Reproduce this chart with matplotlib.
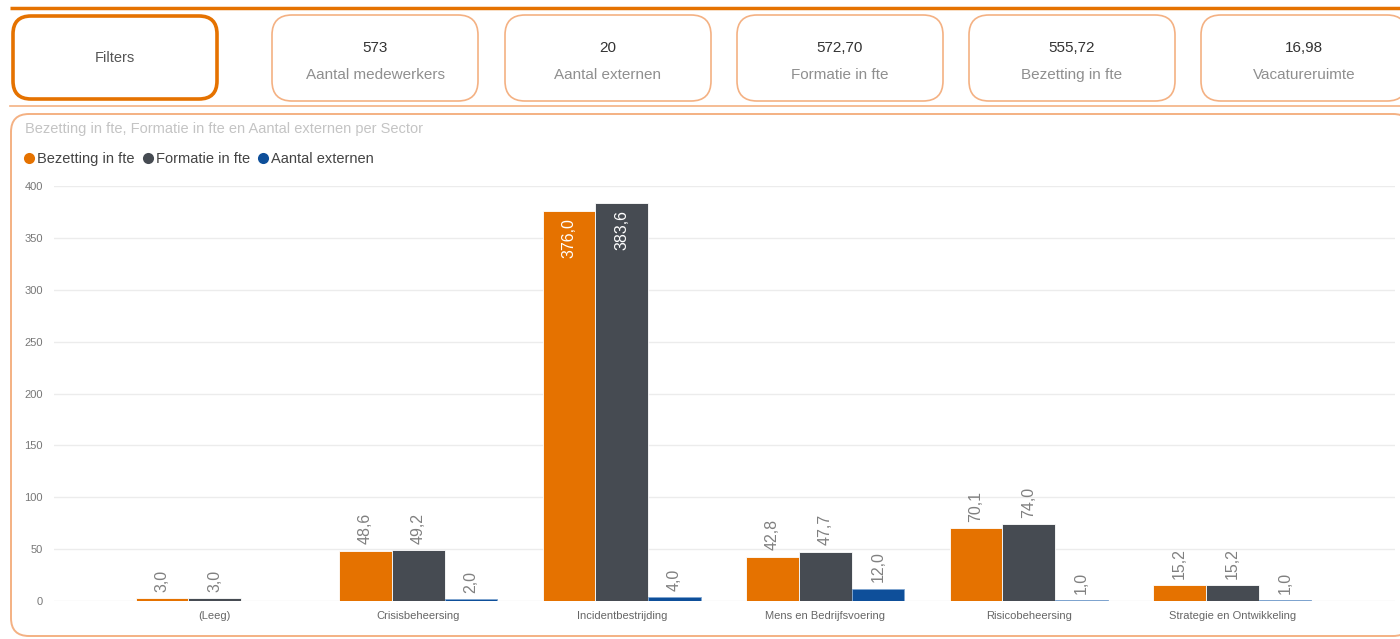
import numpy as np
import matplotlib
matplotlib.use("Agg")
import matplotlib.pyplot as plt
from matplotlib.patches import FancyBboxPatch
from matplotlib.lines import Line2D

plt.rcParams['font.family'] = ['Liberation Sans', 'DejaVu Sans']

categories = ["(Leeg)", "Crisisbeheersing", "Incidentbestrijding",
              "Mens en Bedrijfsvoering", "Risicobeheersing", "Strategie en Ontwikkeling"]
bezetting = [3.0, 48.6, 376.0, 42.8, 70.1, 15.2]
formatie = [3.0, 49.2, 383.6, 47.7, 74.0, 15.2]
externen = [np.nan, 2.0, 4.0, 12.0, 1.0, 1.0]
series_names = ["Bezetting in fte", "Formatie in fte", "Aantal externen"]

card_values = ["573", "20", "572,70", "555,72", "16,98"]
card_labels = ["Aantal medewerkers", "Aantal externen", "Formatie in fte",
               "Bezetting in fte", "Vacatureruimte"]
chart_title = "Bezetting in fte, Formatie in fte en Aantal externen per Sector"

ORANGE = "#E57200"
GREY = "#464B52"
BLUE = "#0E4F9A"
LIGHT_OR = "#F4B183"

W, H = 1400, 639
fig = plt.figure(figsize=(W / 100, H / 100), dpi=100)

# overlay axes in pixel coordinates
ov = fig.add_axes([0, 0, 1, 1], zorder=0)
ov.set_xlim(0, W)
ov.set_ylim(H, 0)
ov.axis("off")

# top orange line
ov.plot([10, W], [8, 8], color=ORANGE, lw=2.5, solid_capstyle="butt")
# separator line
ov.plot([10, W], [106, 106], color=LIGHT_OR, lw=1.2)

# filter card
ov.add_patch(FancyBboxPatch((13, 16), 204, 83, boxstyle="round,pad=0,rounding_size=18",
                            fc="white", ec=ORANGE, lw=2.6))
ov.text(115, 58, "Filters", ha="center", va="center", fontsize=10.5, color="#555555")

card_x = [272, 505, 737, 969, 1201]
for x0, v, lab in zip(card_x, card_values, card_labels):
    ov.add_patch(FancyBboxPatch((x0, 15), 206, 86, boxstyle="round,pad=0,rounding_size=20",
                                fc="white", ec=LIGHT_OR, lw=1.2))
    ov.text(x0 + 103, 48, v, ha="center", va="center", fontsize=11, color="#333333")
    ov.text(x0 + 103, 75, lab, ha="center", va="center", fontsize=11, color="#8f8f8f")

# chart panel
ov.add_patch(FancyBboxPatch((11, 114), 1400, 522, boxstyle="round,pad=0,rounding_size=18",
                            fc="white", ec=LIGHT_OR, lw=1.4))
ov.text(25, 129, chart_title, ha="left", va="center", fontsize=10.5, color="#c4c4c4")

# chart axes
left = 54 / W
right = 1395 / W
bottom = 1 - 601 / H
top = 1 - 186 / H
ax = fig.add_axes([left, bottom, right - left, top - bottom], zorder=1)
ax.patch.set_alpha(0)

x = np.arange(len(categories))
bw = 0.259
colors = [ORANGE, GREY, BLUE]
data = [bezetting, formatie, externen]
for i, (vals, col) in enumerate(zip(data, colors)):
    pos = x + (i - 1) * bw
    vals_arr = np.array(vals, dtype=float)
    ec = "#7fa5d0" if col == BLUE else "white"
    ax.bar(pos, np.nan_to_num(vals_arr), width=bw, color=col, edgecolor=ec, linewidth=0.6,
           zorder=3)
    for p, v in zip(pos, vals_arr):
        if np.isnan(v):
            continue
        lbl = f"{v:.1f}".replace(".", ",")
        if v > 300:
            ax.text(p, v - 7, lbl, rotation=90, ha="center", va="top", fontsize=11.5,
                    color="white", zorder=4)
        else:
            ax.text(p, v + 6, lbl, rotation=90, ha="center", va="bottom", fontsize=11.5,
                    color="#808080", zorder=4)

ax.set_xlim(-0.79, 5.80)
ax.set_ylim(0, 400)
ax.set_yticks(np.arange(0, 401, 50))
ax.yaxis.grid(True, color="#ececec", lw=1, zorder=0)
ax.set_axisbelow(True)
for s in ax.spines.values():
    s.set_visible(False)
ax.tick_params(axis="y", length=0, labelsize=8, labelcolor="#777777", pad=8)
ax.tick_params(axis="x", length=0, labelsize=8, labelcolor="#666666", pad=7)
ax.set_xticks(x)
ax.set_xticklabels(categories)

# legend
handles = [Line2D([], [], marker="o", ls="none", markersize=8, color=c, markeredgewidth=0)
           for c in colors]
fig.legend(handles, series_names, loc="center left",
           bbox_to_anchor=(22 / W, 1 - 159 / H), frameon=False, ncol=3,
           fontsize=10.5, handletextpad=0.05, columnspacing=0.4, handlelength=1.0,
           labelcolor="#444444", borderaxespad=0, borderpad=0)

fig.savefig("out.png", dpi=100)
